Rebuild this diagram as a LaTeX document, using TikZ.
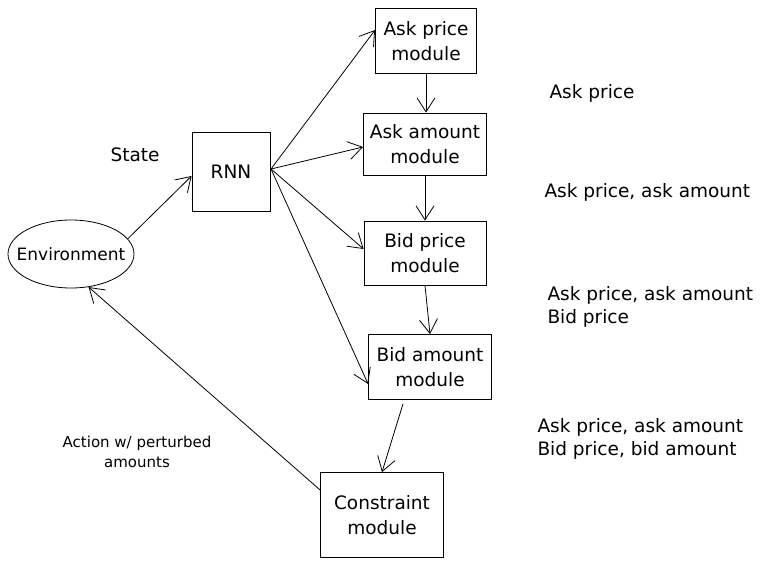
\documentclass[tikz,border=0pt]{standalone}
\usepackage{fontspec}
\setmainfont{DejaVu Sans}
\usetikzlibrary{arrows.meta, positioning, shapes.geometric}

\begin{document}
\begin{tikzpicture}[
    x=1pt, y=-1pt,
    every node/.style={font=\fontsize{18.5}{25}\selectfont, align=center},
    modbox/.style={draw, thick, inner sep=1pt},
    envshape/.style={draw, thick, ellipse, minimum width=126pt, minimum height=68pt,
      inner xsep=-20pt, inner ysep=0pt, font=\fontsize{17}{22}\selectfont},
    note/.style={align=left, anchor=west, font=\fontsize{18.5}{23}\selectfont},
    link/.style={draw, thick, -{Straight Barb[length=14pt, width=18pt]}},
  ]
  \useasboundingbox (0,0) rectangle (772,569);

  % modules
  \node[envshape] (env) at (71,254) {Environment};
  \node[modbox, minimum width=78pt, minimum height=79pt] (rnn) at (231,172) {RNN};
  \node[modbox, minimum width=101pt, minimum height=65pt] (askp) at (426,41) {Ask price\\module};
  \node[modbox, minimum width=123pt, minimum height=62pt] (aska) at (425,144) {Ask amount\\module};
  \node[modbox, minimum width=122pt, minimum height=64pt] (bidp) at (425,253) {Bid price\\module};
  \node[modbox, minimum width=123pt, minimum height=65pt] (bida) at (430,367) {Bid amount\\module};
  \node[modbox, minimum width=123pt, minimum height=85pt] (cons) at (382,515) {Constraint\\module};

  % labels
  \node (state) at (135,155) {State};
  \node[font=\fontsize{15}{20}\selectfont] (action) at (137,452) {Action w/ perturbed\\amounts};
  \node[note] (n1) at (546,93) {Ask price};
  \node[note] (n2) at (541,192) {Ask price, ask amount};
  \node[note] (n3) at (544,307) {Ask price, ask amount\\Bid price};
  \node[note] (n4) at (534,439) {Ask price, ask amount\\Bid price, bid amount};

  % connections
  \coordinate (r1) at (271,169);
  \coordinate (b1) at ([xshift=-27pt, yshift=-4pt]bida.south);
  \draw[link] (env.15) -- (rnn.west |- 0,176);
  \draw[link] (r1) -- (askp.west |- 0,30);
  \draw[link] (r1) -- (aska.west |- 0,147);
  \draw[link] (r1) -- (bidp.west |- 0,249);
  \draw[link] (r1) -- (bida.west |- 0,384);
  \draw[link] (askp.south) -- (askp.south |- aska.north);
  \draw[link] (aska.south) -- (aska.south |- bidp.north);
  \draw[link] (bidp.south) -- (bida.north);
  \draw[link] (b1) -- (cons.north);
  \draw[link] (cons.west |- 0,490) -- (env.-62);
\end{tikzpicture}
\end{document}
